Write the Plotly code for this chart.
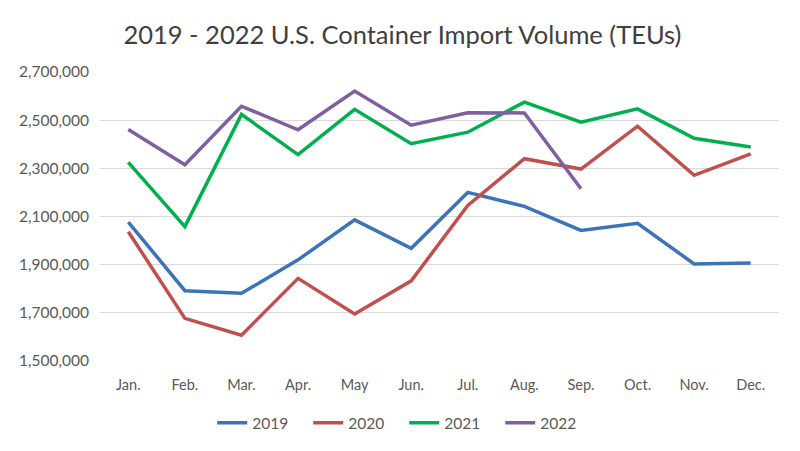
import plotly.graph_objects as go

months = ["Jan.", "Feb.", "Mar.", "Apr.", "May", "Jun.", "Jul.", "Aug.", "Sep.", "Oct.", "Nov.", "Dec."]

teu_2019 = [2077000, 1792000, 1781000, 1920000, 2086000, 1968000, 2200000, 2142000, 2042000, 2072000, 1903000, 1907000]
teu_2020 = [2037000, 1677000, 1607000, 1843000, 1695000, 1833000, 2146000, 2340000, 2297000, 2475000, 2271000, 2360000]
teu_2021 = [2325000, 2058000, 2524000, 2357000, 2545000, 2402000, 2450000, 2575000, 2492000, 2547000, 2425000, 2389000]
teu_2022 = [2461000, 2315000, 2558000, 2460000, 2621000, 2479000, 2531000, 2530000, 2215000]

y_ticks = [1500000, 1700000, 1900000, 2100000, 2300000, 2500000, 2700000]

series = [
    ("2019", teu_2019, "#3B74B8"),
    ("2020", teu_2020, "#C0504D"),
    ("2021", teu_2021, "#00B050"),
    ("2022", teu_2022, "#7F5FA0"),
]

fig = go.Figure()
for name, vals, color in series:
    fig.add_trace(go.Scatter(
        x=months[:len(vals)], y=vals, name=name, mode="lines",
        line=dict(color=color, width=3.5),
    ))

font_family = "Lato, Open Sans, sans-serif"
fig.update_layout(
    width=800, height=451,
    paper_bgcolor="white", plot_bgcolor="white",
    margin=dict(l=92, r=29, t=64, b=98, autoexpand=False),
    title=dict(text="2019 - 2022 U.S. Container Import Volume (TEUs)",
               x=0.493, xanchor="center", y=0.94, yanchor="middle",
               automargin=False,
               font=dict(family=font_family, size=25.5, color="#404040")),
    font=dict(family=font_family, size=14, color="#595959"),
    showlegend=True,
    legend=dict(orientation="h", x=0.448, xanchor="center", y=-0.215, yanchor="middle",
                entrywidth=51, entrywidthmode="pixels",
                font=dict(size=15.5, color="#595959"), traceorder="normal"),
    xaxis=dict(type="category", categoryorder="array", categoryarray=months,
               range=[-0.5, 11.5], showgrid=False, showline=False, ticks="",
               ticklabelstandoff=13,
               tickfont=dict(size=14.5, color="#595959")),
    yaxis=dict(range=[1500000, 2700000], tickvals=y_ticks,
               ticktext=[f"{v:,}" for v in y_ticks],
               showgrid=True, gridcolor="#D9D9D9", gridwidth=1.2,
               zeroline=False, showline=False, ticks="",
               ticklabelstandoff=10,
               tickfont=dict(size=15.5, color="#595959")),
)

fig.write_html("out.html")
